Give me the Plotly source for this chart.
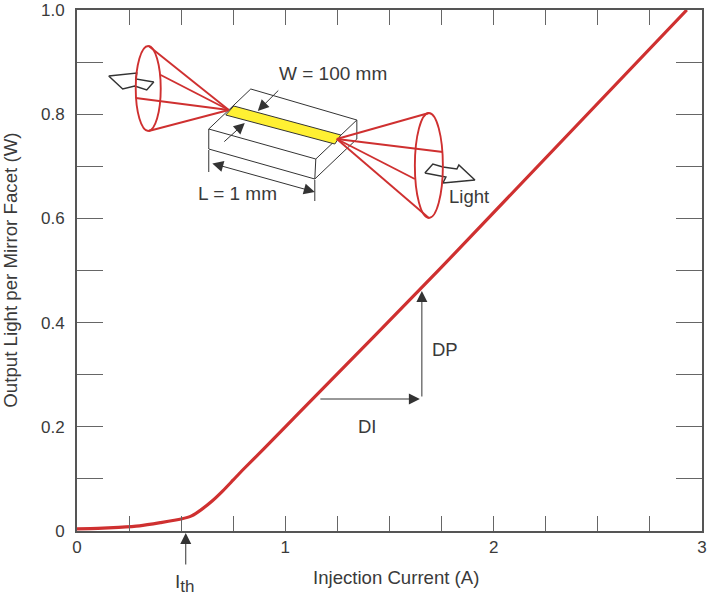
import plotly.graph_objects as go

# Measured curve
current = [0, 0.1, 0.2, 0.3, 0.4, 0.5, 0.55, 0.6, 0.65, 0.7, 0.75, 0.8, 0.9, 1.0, 1.069, 1.737, 2.927]
power = [0.004, 0.005, 0.007, 0.01, 0.016, 0.023, 0.029, 0.042, 0.058, 0.077, 0.098, 0.119, 0.159, 0.2, 0.228, 0.501, 1.0]

x_major = [0, 1, 2, 3]
x_labels = ["0", "1", "2", "3"]
x_minor = [0.25, 0.5, 0.75, 1.25, 1.5, 1.75, 2.25, 2.5, 2.75]
y_major = [0, 0.2, 0.4, 0.6, 0.8, 1.0]
y_labels = ["0", "0.2", "0.4", "0.6", "0.8", "1.0"]
y_minor = [0.1, 0.3, 0.5, 0.7, 0.9]

W, H = 707, 600
L, R, T, B = 77.3, 702, 10, 531
TXT = "#3a3a3a"
AX = "#555555"
RED = "#cf3030"
FONT = "Liberation Sans"


def dx(px):
    return (px - L) / (R - L) * 3


def dy(py):
    return (B - py) / (B - T)


def xs(pts):
    return [dx(p[0]) for p in pts]


def ys(pts):
    return [dy(p[1]) for p in pts]


# Inset diagram, outlined on the picture
box_top = [(251, 89), (357, 120), (316, 159), (209, 129), (251, 89)]
box_side = [(209, 129), (209, 149), (315, 179), (357, 139), (357, 120)]
box_edge = [(316, 159), (315, 179)]
strip = [(234, 106), (341, 135), (335, 144), (226, 115), (234, 106)]
dim_left = [(209, 150), (209, 172)]
dim_right = [(315, 180), (315, 201)]
left_arrow = [(109, 76), (137, 73), (136, 79), (154, 82), (147, 90), (135, 86), (123, 89), (109, 76)]
right_arrow = [(425, 173), (433, 164), (443, 167), (457, 169), (459, 165), (475, 180), (443, 183), (446, 177), (425, 173)]
left_apex = (229, 110)
left_rim = [(149, 46), (161, 75), (136, 98), (149, 131)]
right_apex = (337, 139)
right_rim = [(429, 113), (443, 152), (415, 179), (429, 218)]
left_ellipse = (136, 46, 161, 131)
right_ellipse = (415, 113, 443, 218)

# (tail, tip, both ends)
arrows = [
    ((280, 89), (258, 111), False),
    ((223, 143), (245, 123), False),
    ((211, 163), (315, 192), True),
    ((186, 566), (186, 533), False),
    ((319, 399), (420, 399), False),
    ((422, 398), (422, 291), False),
]

labels = [
    ("W = 100 mm", 333, 74, 19),
    ("L = 1 mm", 238, 193, 19),
    ("Light", 469, 197, 18.5),
    ("DP", 445, 349, 18.5),
    ("DI", 368, 426, 18.5),
    ("I<sub><span style='font-size:17px'>th</span></sub>", 185, 583, 19),
    ("Injection Current (A)", 396, 577, 18.6),
]

fig = go.Figure()


def poly(pts, color="#333333", width=1, fill=None):
    fig.add_trace(go.Scatter(
        x=xs(pts), y=ys(pts), mode="lines",
        line=dict(color=color, width=width),
        fill="toself" if fill else None, fillcolor=fill,
        hoverinfo="skip", showlegend=False, cliponaxis=False))


poly(box_top, fill="#ffffff")
poly(box_side)
poly(box_edge)
poly(strip, fill="#fff033")
poly(dim_left)
poly(dim_right)
for apex, rim in ((left_apex, left_rim), (right_apex, right_rim)):
    for p in rim:
        poly([apex, p], color=RED, width=1.9)
poly(left_arrow, width=1.5, fill="#ffffff")
poly(right_arrow, width=1.5, fill="#ffffff")

fig.add_trace(go.Scatter(
    x=current, y=power, mode="lines",
    line=dict(color=RED, width=3.2, shape="spline", smoothing=0.6),
    hoverinfo="skip", showlegend=False))

shapes = []
for e in (left_ellipse, right_ellipse):
    shapes.append(dict(type="circle", xref="x", yref="y",
                       x0=dx(e[0]), x1=dx(e[2]), y0=dy(e[1]), y1=dy(e[3]),
                       line=dict(color=RED, width=1.9)))

annotations = []
for tail, tip, both in arrows:
    annotations.append(dict(
        x=dx(tip[0]) / 3, y=dy(tip[1]), ax=tail[0] - tip[0], ay=tail[1] - tip[1],
        xref="paper", yref="paper", axref="pixel", ayref="pixel", text="",
        showarrow=True, arrowhead=2, arrowsize=2.2, arrowwidth=1,
        arrowside="end+start" if both else "end",
        arrowcolor="#333333"))
for text, px, py, size in labels:
    annotations.append(dict(
        x=dx(px) / 3, y=dy(py), xref="paper", yref="paper", text=text, showarrow=False,
        xanchor="center", yanchor="middle",
        font=dict(family=FONT, size=size, color=TXT)))
annotations.append(dict(
    x=dx(10) / 3, y=dy(270), xref="paper", yref="paper", text="Output Light per Mirror Facet (W)",
    showarrow=False, textangle=-90, xanchor="center", yanchor="middle",
    font=dict(family=FONT, size=18.7, color=TXT)))

axis_common = dict(
    showgrid=False, zeroline=False, showline=True, linecolor=AX, linewidth=2,
    ticks="inside", mirror="ticks", tickcolor="#666666", tickwidth=1,
    tickfont=dict(family=FONT, size=17, color=TXT), tickmode="array", tickangle=0)

fig.update_layout(
    width=W, height=H, autosize=False,
    margin=dict(l=L, r=W - R, t=T, b=H - B, pad=0, autoexpand=False),
    paper_bgcolor="#ffffff", plot_bgcolor="#ffffff",
    shapes=shapes, annotations=annotations, showlegend=False,
    xaxis=dict(range=[0, 3], tickvals=x_major, ticktext=x_labels, ticklen=15,
               minor=dict(tickmode="array", tickvals=x_minor, ticks="inside", ticklen=15,
                          tickcolor="#666666", tickwidth=1), **axis_common),
    yaxis=dict(range=[0, 1], tickvals=y_major, ticktext=y_labels, ticklen=26,
               ticklabelstandoff=7,
               minor=dict(tickmode="array", tickvals=y_minor, ticks="inside", ticklen=26,
                          tickcolor="#666666", tickwidth=1), **axis_common),
)

fig.write_html("out.html", config=dict(displayModeBar=False),
               post_script="document.body.style.margin='0';document.documentElement.style.overflow='hidden';")
